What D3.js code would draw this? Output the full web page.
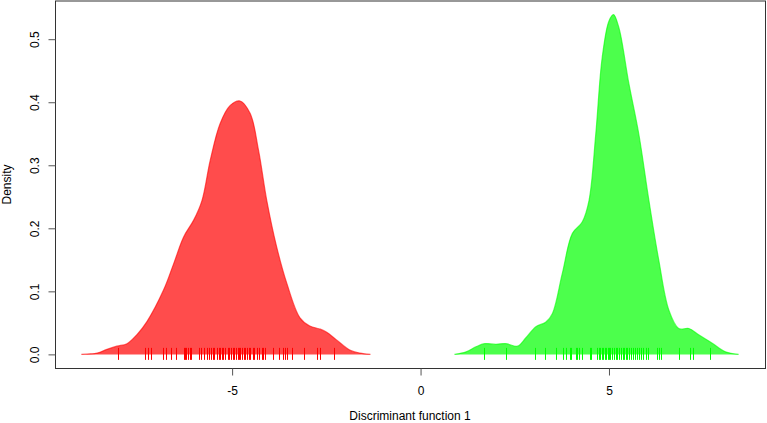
<!DOCTYPE html>
<html><head><meta charset="utf-8">
<script src="https://cdn.jsdelivr.net/npm/d3@7"></script>
<style>body{margin:0;background:#fff}svg{display:block}text{font-family:"Liberation Sans",Arial,sans-serif;font-size:12px;fill:#000}</style>
</head><body><svg id="c" width="767" height="423"></svg>
<script>
// Density estimates: x (discriminant score) and density
const redX = [-9.00,-8.58,-8.32,-8.06,-7.79,-7.53,-7.26,-6.82,-6.55,-6.29,-6.02,-5.80,-5.58,-5.32,-5.05,-4.79,-4.52,-4.30,-4.08,-3.82,-3.55,-3.20,-2.94,-2.66,-2.49,-2.23,-1.88,-1.61,-1.33];
const redY = [0,0.002,0.008,0.013,0.017,0.031,0.052,0.102,0.144,0.186,0.213,0.244,0.308,0.366,0.395,0.402,0.382,0.324,0.244,0.171,0.113,0.058,0.045,0.040,0.035,0.023,0.007,0.002,0];
const greenX = [0.90,1.21,1.47,1.69,2.00,2.27,2.57,2.79,3.06,3.32,3.50,3.76,4.03,4.29,4.47,4.65,4.82,5.00,5.12,5.26,5.53,5.79,6.06,6.32,6.59,6.85,7.12,7.38,7.73,8.09,8.44];
const greenY = [0,0.004,0.012,0.017,0.016,0.017,0.013,0.026,0.044,0.051,0.065,0.128,0.192,0.210,0.244,0.350,0.471,0.529,0.539,0.519,0.429,0.350,0.244,0.150,0.070,0.041,0.041,0.031,0.018,0.004,0];
// Rug: individual scores
const redRug = [-8.03,-7.32,-7.24,-7.15,-6.83,-6.76,-6.63,-6.48,-6.28,-6.25,-6.22,-6.17,-6.13,-6.10,-5.87,-5.82,-5.74,-5.67,-5.62,-5.57,-5.51,-5.47,-5.40,-5.35,-5.32,-5.26,-5.23,-5.18,-5.12,-5.07,-5.03,-4.98,-4.94,-4.89,-4.85,-4.81,-4.78,-4.73,-4.68,-4.65,-4.61,-4.56,-4.52,-4.45,-4.41,-4.35,-4.29,-4.22,-4.18,-4.13,-3.92,-3.76,-3.66,-3.59,-3.54,-3.40,-3.10,-2.74,-2.67,-2.29];
const greenRug = [1.68,2.27,3.04,3.31,3.59,3.78,3.86,3.96,3.99,4.12,4.16,4.21,4.28,4.49,4.53,4.69,4.74,4.77,4.81,4.84,4.89,4.92,4.97,5.00,5.04,5.09,5.13,5.18,5.22,5.26,5.32,5.36,5.40,5.45,5.49,5.54,5.59,5.64,5.69,5.74,5.79,5.85,5.90,5.97,6.03,6.28,6.32,6.38,6.87,7.16,7.22,7.69];
const xTicks = [-5,0,5];
const yTicks = [0,0.1,0.2,0.3,0.4,0.5];
const xTitle = "Discriminant function 1";
const yTitle = "Density";

const svg = d3.select("#c");
const L=55, R=765, T=1, B=368;
const x = d3.scaleLinear().domain([-9.70,9.14]).range([L,R]);
const y = d3.scaleLinear().domain([-0.0216,0.5606]).range([B,T]);
const curve = d3.curveCatmullRom.alpha(0.5);

function area(xs, ys){
  const pts = xs.map((v,i)=>[v,ys[i]]);
  return d3.area().x(d=>x(d[0])).y0(y(0)).y1(d=>y(d[1])).curve(curve)(pts);
}
function line(xs, ys){
  const pts = xs.map((v,i)=>[v,ys[i]]);
  return d3.line().x(d=>x(d[0])).y(d=>y(d[1])).curve(curve)(pts);
}
[[redX,redY,"#ff0000"],[greenX,greenY,"#00ff00"]].forEach(([xs,ys,c])=>{
  svg.append("path").attr("d",area(xs,ys)).attr("fill",c).attr("fill-opacity",0.7);
  svg.append("path").attr("d",line(xs,ys)).attr("fill","none").attr("stroke",c).attr("stroke-opacity",0.6).attr("stroke-width",1.2);
});
[[redRug,"#ff0000"],[greenRug,"#00ff00"]].forEach(([r,c])=>{
  svg.append("g").selectAll("line").data(r).join("line")
    .attr("x1",d=>Math.round(x(d))+0.5).attr("x2",d=>Math.round(x(d))+0.5)
    .attr("y1",y(0)-6.5).attr("y2",y(0)+5.5)
    .attr("stroke",c).attr("stroke-width",1);
});

// box
svg.append("rect").attr("x",L+0.5).attr("y",T).attr("width",R-L).attr("height",B-T+0.5)
  .attr("fill","none").attr("stroke","#333").attr("stroke-width",1);

// x axis
const gx = svg.append("g").attr("transform",`translate(0,${B+0.5})`)
  .call(d3.axisBottom(x).tickValues(xTicks).tickSize(7).tickSizeOuter(0).tickFormat(d=>String(d)));
gx.select(".domain").remove();
gx.selectAll(".tick line").attr("stroke","#555");
gx.selectAll(".tick text").attr("y",0).attr("dy",0).attr("transform","translate(0,26)")
  .style("font-size","12px").style("font-family","Liberation Sans, Arial, sans-serif");

// y axis
const gy = svg.append("g").attr("transform",`translate(${L+0.5},0)`)
  .call(d3.axisLeft(y).tickValues(yTicks).tickSize(7).tickFormat(d3.format(".1f")));
gy.select(".domain").remove();
gy.selectAll(".tick line").attr("stroke","#555");
gy.selectAll(".tick text").attr("x",0).attr("dy",0)
  .attr("transform","translate(-16.5,0) rotate(-90)").attr("text-anchor","middle")
  .style("font-size","12px").style("font-family","Liberation Sans, Arial, sans-serif");

svg.append("text").attr("x",(L+R)/2).attr("y",420).attr("text-anchor","middle").text(xTitle);
svg.append("text").attr("transform",`translate(11,${(T+B)/2}) rotate(-90)`).attr("text-anchor","middle").text(yTitle);
</script></body></html>
